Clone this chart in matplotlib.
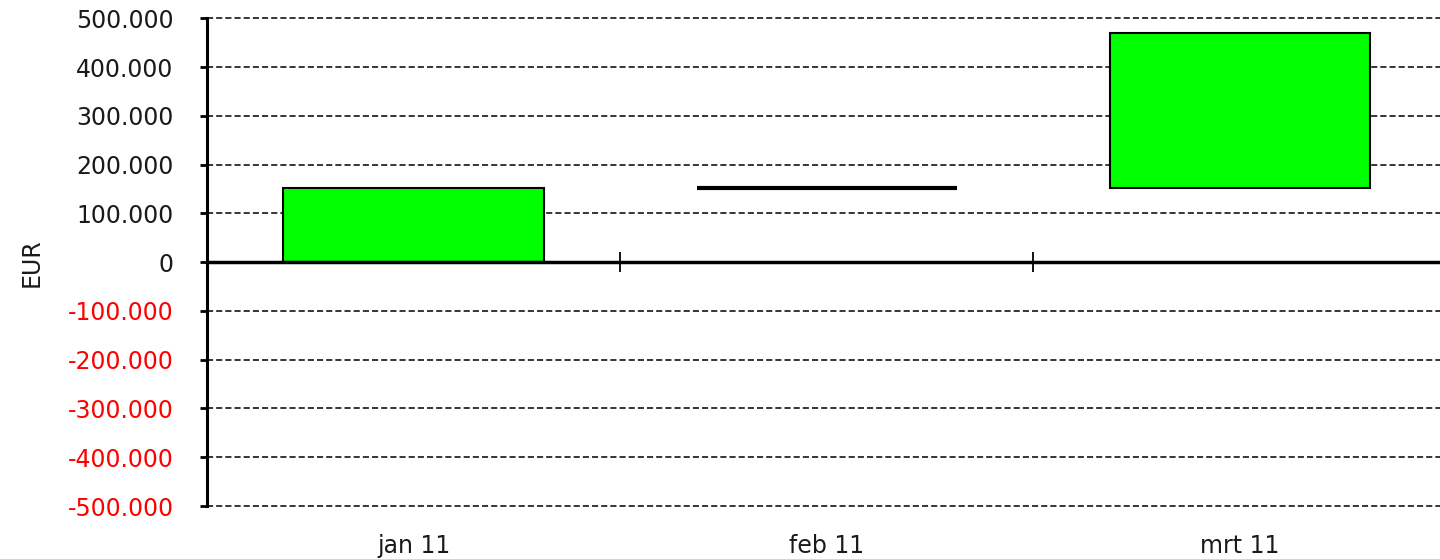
import matplotlib
matplotlib.use('Agg')
import matplotlib.pyplot as plt

# waterfall data (EUR)
months = ['jan 11', 'feb 11', 'mrt 11']
changes = [153000, 0, 317000]
yticks = [-500000, -400000, -300000, -200000, -100000, 0,
          100000, 200000, 300000, 400000, 500000]

plt.rcParams['font.family'] = ['DejaVu Sans']
plt.rcParams['font.size'] = 17


def fmt(v):
    return '{:,}'.format(int(v)).replace(',', '.')


fig = plt.figure(figsize=(14.4, 5.59), dpi=100)
ax = fig.add_axes([0.14375, 0.0948, 1 - 0.14375, 0.9673 - 0.0948])

# start of each step is the running total before it
starts = []
total = 0
for c in changes:
    starts.append(total)
    total += c

x = list(range(len(months)))
bar_w = 0.63
for i, (s, c) in enumerate(zip(starts, changes)):
    if c == 0:
        ax.hlines(s, i - bar_w / 2, i + bar_w / 2, color='black', lw=3, zorder=3)
    else:
        ax.bar(i, c, bottom=s, width=bar_w, color='#00ff00',
               edgecolor='black', linewidth=1.5, zorder=3)

ax.set_ylim(-500000, 500000)
ax.set_xlim(-0.5, 2.484)
ax.set_yticks(yticks)
ax.set_yticklabels([fmt(v) for v in yticks])
for lab, v in zip(ax.get_yticklabels(), yticks):
    lab.set_color('red' if v < 0 else '#1a1a1a')

# dashed grid lines
for v in yticks:
    if v != 0:
        ax.axhline(v, color='black', lw=1.1, dashes=(4, 2), zorder=1, clip_on=False)

# zero line
ax.axhline(0, color='black', lw=2.5, zorder=4)

ax.spines['top'].set_visible(False)
ax.spines['right'].set_visible(False)
ax.spines['bottom'].set_visible(False)
ax.spines['left'].set_linewidth(2.2)
ax.tick_params(axis='y', direction='out', length=5, width=2, pad=19)

ax.set_xticks(x)
ax.set_xticklabels(months, color='#1a1a1a')
ax.tick_params(axis='x', length=0, pad=20)

ax.set_ylabel('EUR', color='#1a1a1a', labelpad=17)

# category separators on the zero line
zero_ax = ax.secondary_xaxis(0.5)
zero_ax.spines['bottom'].set_visible(False)
zero_ax.set_xticks([0.5, 1.5])
zero_ax.set_xticklabels(['', ''])
zero_ax.tick_params(direction='inout', length=14, width=1.3)

plt.savefig('out.png', dpi=100)
plt.close()
